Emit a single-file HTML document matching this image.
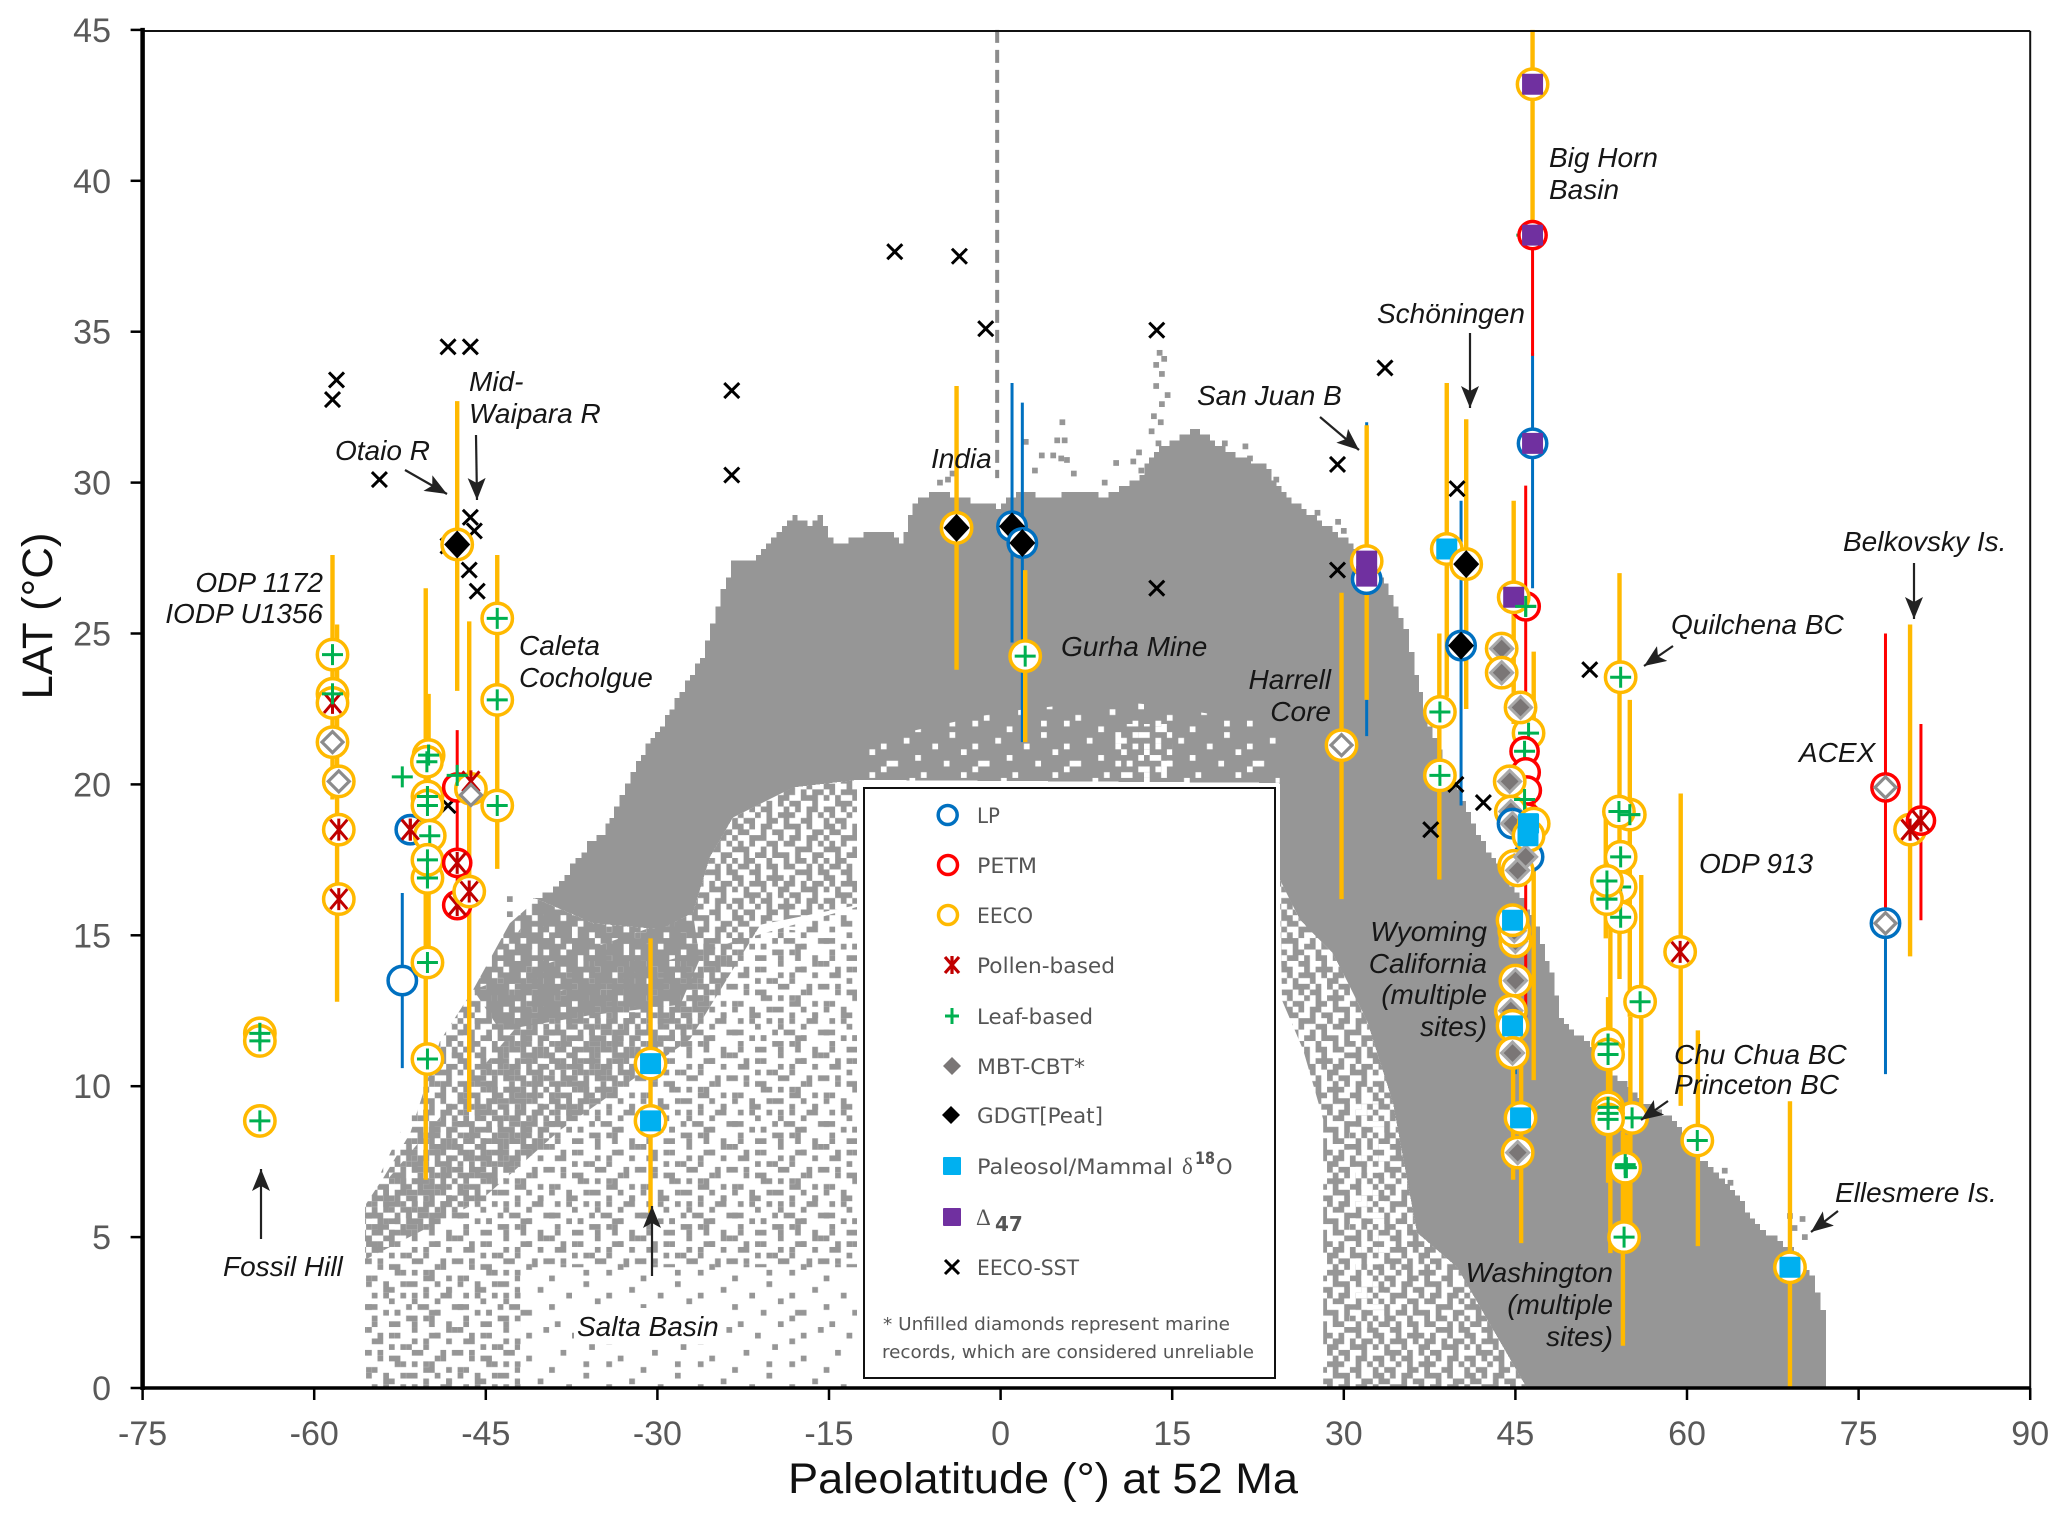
<!DOCTYPE html>
<html lang="en">
<head>
<meta charset="utf-8">
<title>Paleolatitude vs LAT</title>
<style>
html,body{margin:0;padding:0;background:#fff}
svg{display:block}
.note{font:italic 28px "Liberation Sans",Arial,sans-serif;fill:#161616}
.lg{font:21px "DejaVu Sans","Liberation Sans",sans-serif;fill:#555}
.lgs{font:18px "DejaVu Sans","Liberation Sans",sans-serif;fill:#555}
</style>
</head>
<body>
<svg id="chart" xmlns="http://www.w3.org/2000/svg" width="2067" height="1520" viewBox="0 0 2067 1520">
<defs>
<marker id="arrowhead" markerUnits="userSpaceOnUse" markerWidth="24" markerHeight="18" refX="22" refY="9" orient="auto"><path d="M0 0L22 9L0 18L5 9Z" fill="#222"/></marker>
</defs>
<rect width="2067" height="1520" fill="#fff"/>
<g id="cloud"></g>
<rect x="574" y="1308" width="150" height="36" fill="#fff"/>
<g id="bars"></g>
<g id="sst"></g>
<g id="sites"></g>
<g id="axes"></g>

<g>
<text class="note" x="1549" y="167">Big Horn</text>
<text class="note" x="1549" y="199">Basin</text>
<text class="note" x="1377" y="323">Schöningen</text>
<text class="note" x="1197" y="405">San Juan B</text>
<text class="note" x="469" y="391">Mid-</text>
<text class="note" x="469" y="423">Waipara R</text>
<text class="note" x="335" y="460">Otaio R</text>
<text class="note" x="931" y="468">India</text>
<text class="note" x="323" y="592" text-anchor="end">ODP 1172</text>
<text class="note" x="323" y="623" text-anchor="end">IODP U1356</text>
<text class="note" x="519" y="655">Caleta</text>
<text class="note" x="519" y="687">Cocholgue</text>
<text class="note" x="1061" y="656">Gurha Mine</text>
<text class="note" x="1331" y="689" text-anchor="end">Harrell</text>
<text class="note" x="1331" y="721" text-anchor="end">Core</text>
<text class="note" x="1843" y="551">Belkovsky Is.</text>
<text class="note" x="1671" y="634">Quilchena BC</text>
<text class="note" x="1799" y="762">ACEX</text>
<text class="note" x="1699" y="873">ODP 913</text>
<text class="note" x="1487" y="941" text-anchor="end">Wyoming</text>
<text class="note" x="1487" y="973" text-anchor="end">California</text>
<text class="note" x="1487" y="1004" text-anchor="end">(multiple</text>
<text class="note" x="1487" y="1036" text-anchor="end">sites)</text>
<text class="note" x="1674" y="1064">Chu Chua BC</text>
<text class="note" x="1674" y="1094">Princeton BC</text>
<text class="note" x="1835" y="1202">Ellesmere Is.</text>
<text class="note" x="1613" y="1282" text-anchor="end">Washington</text>
<text class="note" x="1613" y="1314" text-anchor="end">(multiple</text>
<text class="note" x="1613" y="1346" text-anchor="end">sites)</text>
<text class="note" x="223" y="1276">Fossil Hill</text>
<text class="note" x="577" y="1336">Salta Basin</text>
</g>

<g stroke="#222" stroke-width="2.2" fill="none">
<line x1="405" y1="470" x2="447" y2="494" marker-end="url(#arrowhead)"/>
<line x1="476" y1="435" x2="477" y2="500" marker-end="url(#arrowhead)"/>
<line x1="1320" y1="417" x2="1359" y2="450" marker-end="url(#arrowhead)"/>
<line x1="1470" y1="333" x2="1470" y2="408" marker-end="url(#arrowhead)"/>
<line x1="1673" y1="646" x2="1644" y2="666" marker-end="url(#arrowhead)"/>
<line x1="1914" y1="563" x2="1914" y2="619" marker-end="url(#arrowhead)"/>
<line x1="1668" y1="1101" x2="1641" y2="1120" marker-end="url(#arrowhead)"/>
<line x1="1838" y1="1211" x2="1811" y2="1232" marker-end="url(#arrowhead)"/>
<line x1="261" y1="1239" x2="261" y2="1169" marker-end="url(#arrowhead)"/>
<line x1="652" y1="1276" x2="652" y2="1206" marker-end="url(#arrowhead)"/>
</g>

<g>
<rect x="857" y="784" width="423" height="602" fill="#fff"/>
<rect x="864" y="788" width="411" height="590" fill="#fff" stroke="#111" stroke-width="2"/>
<g><circle cx="947.7" cy="815" r="9.5" fill="#fff" stroke="#0070C0" stroke-width="3.5"/><text class="lg" x="977" y="823" textLength="23" lengthAdjust="spacingAndGlyphs">LP</text></g>
<g><circle cx="948" cy="865" r="9.5" fill="#fff" stroke="#FF0000" stroke-width="3.5"/><text class="lg" x="977" y="873" textLength="60" lengthAdjust="spacingAndGlyphs">PETM</text></g>
<g><circle cx="948" cy="915" r="9.5" fill="#fff" stroke="#FFB900" stroke-width="3.5"/><text class="lg" x="977" y="923" textLength="56" lengthAdjust="spacingAndGlyphs">EECO</text></g>
<g><path d="M945 957L959 973M959 957L945 973M952 956V974" stroke="#C00000" stroke-width="3.2" fill="none"/><text class="lg" x="977" y="973" textLength="138" lengthAdjust="spacingAndGlyphs">Pollen-based</text></g>
<g><path d="M945 1016H959M952 1008V1024" stroke="#00B050" stroke-width="3" fill="none"/><text class="lg" x="977" y="1024" textLength="116" lengthAdjust="spacingAndGlyphs">Leaf-based</text></g>
<g><path d="M952 1057L961 1066L952 1075L943 1066Z" fill="#7a7676"/><text class="lg" x="977" y="1074" textLength="108" lengthAdjust="spacingAndGlyphs">MBT-CBT*</text></g>
<g><path d="M951 1106L960 1115L951 1124L942 1115Z" fill="#000"/><text class="lg" x="977" y="1123" textLength="126" lengthAdjust="spacingAndGlyphs">GDGT[Peat]</text></g>
<g><rect x="943" y="1157" width="18" height="18" rx="1" fill="#00B0F0"/><text class="lg" x="977" y="1174" textLength="196" lengthAdjust="spacingAndGlyphs">Paleosol/Mammal</text><text class="lg" x="1182" y="1174" style="font-family:'Liberation Serif',serif;font-size:23px">δ</text><text class="lg" x="1195" y="1164" textLength="20" lengthAdjust="spacingAndGlyphs" style="font-weight:700;font-size:17px">18</text><text class="lg" x="1216" y="1174">O</text></g>
<g><rect x="943" y="1208" width="18" height="18" rx="1" fill="#7030A0"/><text class="lg" x="976" y="1225" style="font-family:'Liberation Serif',serif;font-size:23px">Δ</text><text class="lg" x="995" y="1231" style="font-weight:700;font-size:20px">47</text></g>
<g><path d="M945 1260L959 1274M959 1260L945 1274" stroke="#000" stroke-width="3" fill="none"/><text class="lg" x="977" y="1275" textLength="102" lengthAdjust="spacingAndGlyphs">EECO-SST</text></g>
<text class="lgs" x="883" y="1330" textLength="347" lengthAdjust="spacingAndGlyphs">* Unfilled diamonds represent marine</text>
<text class="lgs" x="882" y="1358" textLength="372" lengthAdjust="spacingAndGlyphs">records, which are considered unreliable</text>
</g>
</svg>

<script>
/* axis tick labels */
const xTicks = [-75,-60,-45,-30,-15,0,15,30,45,60,75,90];
const yTicks = [0,5,10,15,20,25,30,35,40,45];

/* upper envelope of the model cloud: latitude (deg) and LAT (degC) */
const cloudTopLat  = [-40.96,-39.6,-37.64,-36.15,-34.9,-33.8,-31.87,-29.77,-28.5,-26.27,-25.4,-23.56,-21.8,-20.06,-18.2,-16.9,-16,-14.6,-12,-9.7,-8.9,-7.7,-5.3,-4,-0.4,1.8,3.45,7.2,9,11.7,13.85,17,18.75,21,22.8,25,27.2,30.4,33.5,35.2,36.2,37.3,39.5,41.1,42.9,44.5,46.7,48,48.8,51,53.5,56.1,58.7,60.4,63.3,66.4,68.9,70.7,72.15];
const cloudTopTemp = [16.2,16.4,17.3,18.1,18.4,19.2,20.8,22,22.8,24.2,25.4,27.4,27.4,28.2,29,28.5,28.9,27.9,28.3,28.3,27.9,29.4,29.75,29.5,29.2,29.75,29.5,29.7,29.5,30.15,31.15,31.8,31.3,30.8,30.6,29.5,28.85,28,26.7,25.2,23.6,22,20.1,18.7,17.5,16.7,15.3,13.7,12.2,11.5,10.4,9.45,8.85,7.75,6.8,5.2,4.65,3.7,2.1];
/* lower edge of the solid part of the cloud, right to left */
const solidLowLat  = [72.15,46,39.9,36.4,34.9,34.3,32,29.05,26.2,24.4,24.4,-12.55,-18.15,-23.4,-25.4,-26.9,-29.75,-35.6,-40.5];
const solidLowTemp = [0,0,4,5.15,8.2,9.45,12.2,14.4,15.5,16.85,20.05,20.15,19.9,18.9,17.6,15.75,15.2,15.4,16.2];
/* speckle zones */
const faintLat  = [-55.56,-55.56,-49.1,-40.96,-12,-12];
const faintTemp = [0,6.03,11.17,15.8,15,0];
const lightLat  = [-55.56,-42,-42,-12,-12,-40,-55.56];
const lightTemp = [0,0,4,4,16,13,6.03];
const denseZoneLat  = [-40.5,-35.6,-29.75,-26.9,-26.3,-28,-35.9,-43.75,-46.1,-42.9];
const denseZoneTemp = [16.2,15.4,15.2,15.75,14.2,12.7,12.35,11.85,13.2,15.4];
const mediumLeftLat  = [-46.1,-49,-51.6,-53.9,-55.55,-55.55,-45.5,-38.5,-27.15,-21,-12.55,-12.55,-18.15,-23.4,-25.4,-26.9];
const mediumLeftTemp = [13.2,11.5,8.45,7,6.05,4.25,6.2,8.55,11.55,15.35,16,20.15,19.9,18.9,17.6,15.75];
const mediumRightLat  = [24.4,26.2,29.05,32,34.3,34.9,36.4,39.9,46,28.2,28.2,26.45,24.6];
const mediumRightTemp = [16.85,15.5,14.4,12.2,9.45,8.2,5.15,4,0,0,8.9,11.2,12.85];
/* pale gaps inside the cloud */
const lobeGapLat  = [30.5,34,34,30.5];
const lobeGapTemp = [9.5,9.5,2,2];
const fleckLat  = [-12.3,0,10,24.4,24.4,-12.3];
const fleckTemp = [21.4,22.4,22.8,22,20.05,20.05];
const fleckCoreLat  = [10,15,15,10];
const fleckCoreTemp = [22,22,20.05,20.05];
/* stray cells outside the main envelope */
const strayLat  = [13.9,14.3,13.6,14.1,13.6,14.6,14.1,13.4,14,13.2,5.4,4.95,5.6,3.6,4.6,5.3,5.8,6.4,3,2.2,10.1,9.1,12.1,11.6,12.3,13.8,-5.3,-4.6,-4.2,-2,19.6,21.4,21.8,24.1,27.7,29.5,30,69,69.4,70.1,70.3,63.3,63.8,-42.9,-42.9];
const strayTemp = [34.3,34.1,33.9,33.6,33.2,32.9,32.6,32.2,32,31.7,32,31.4,31.4,30.9,30.9,30.8,30.75,30.3,30.4,31.35,30.65,30,31,30.7,30.4,31.3,30,30.1,30.3,29.1,31.3,31.2,30.8,30.1,29,28.7,28.4,5.7,5.3,5.6,5,7.2,6.8,16.2,15.7];

/* hand drawn speckle tiles */
const tileFaint = ["......#.........","..............#.","...#......#.....","........#.......","#...............",".....#.....##...","..........#.....",".#......#.......","...............#","....#.......#...","..........#.....",".......#........","..#.............","............#...","......#...#.....","#..............."];
const tileLight = ["#..#...##...#...","...##.....#...#.",".#....#.#....##.","....#.......#...","##.....#.##....#","...#.#......#...",".#.....##..#....","....##.....#..#.","#.......#.....#.","..#..#.....##...",".##.....#.....#.","....#.#...#.....","#.......##...#.#","..#.##.......#..",".....#..#..#....",".#........##..#."];
const tileMedium = ["##.#.##..###.#..",".##..#.##..#..##","#..###..#.##.##.",".#.#..##.##..#.#","###..#.#...###..","..#.##.###.#..##","#.##..#..#.##.#.",".##.#.##.##..#.#","#..##..#...###.#","##..#.###.#..#..",".#.###.#.##.#.##","#.#..#..##..###.","..###.#.#.##..#.","##.#.##..#.#.##.",".#..#.#.###..#.#","#.##..##.#..##.."];
const tileDense = ["##.#####.####.##","#####.####.#####",".###.#####.##.##","####.##.#######.","#.######.##.####","###.#####.###.##","##.####.#####.#.","#####.####.#####",".####.#.#####.##","##.#####.###.###","###.##.####.####","#.#####.####.#.#","####.####..#####","##.######.###.##","#.####.#####.###","####.#####.#.###"];

/* error bars */
const orangeBarLat  = [-58.4,-58,-50.25,-50,-47.5,-46.45,-44,-30.6,-3.85,2.15,29.8,32,39,38.35,40.7,46.5,44.85,46.6,45.5,44.8,54.1,55,56,52.9,53.3,53.1,54.4,54.6,54.9,55.05,60.95,59.45,69,79.5];
const orangeBarLow  = [19.5,12.8,6.9,14,23.1,9.15,17.2,5.8,23.8,21.4,16.2,22.8,22.9,16.85,22.5,38.3,22,10.2,4.8,6.9,13.55,12.3,9.3,14.9,4.47,6.8,1.4,5,5,5,4.7,9.35,0,14.3];
const orangeBarHigh = [27.6,25.3,26.5,23,32.7,25.4,27.6,14.9,33.2,27.1,26.35,31.9,33.3,25,32.1,45,29.4,24.4,11,14,27,22.8,17,19.3,15.5,12.95,8.5,8.4,8.4,12.3,11.85,19.7,9.5,25.3];
const redBarLat  = [-47.5,46.5,45.9,77.35,80.45];
const redBarLow  = [16,34.2,12,15.4,15.5];
const redBarHigh = [21.8,38.2,29.9,25,22];
const blueBarLat  = [-52.3,1,1.9,32,40.25,46.5,77.35,45];
const blueBarLow  = [10.6,24.7,21.4,21.6,19.3,26.5,10.4,10.4];
const blueBarHigh = [16.4,33.3,32.65,32,29.4,34.3,15.4,13];

/* EECO sea surface temperature crosses */
const sstLat  = [-58.4,-58.05,-54.3,-48.3,-46.35,-46.35,-46,-48.3,-46.45,-45.75,-48.3,-23.5,-23.5,-9.25,-3.6,-1.3,13.65,13.65,29.45,29.45,33.6,39.9,39.8,37.6,42.2,51.5];
const sstTemp = [32.75,33.4,30.1,34.5,34.5,28.85,28.4,27.9,27.1,26.4,19.3,33.05,30.25,37.65,37.5,35.1,35.05,26.5,30.6,27.1,33.8,29.8,20,18.5,19.4,23.8];

/* site records, split into regional groups: latitude, LAT, period ring (E EECO, P PETM, L LP, N none), proxy */
const southLat = [-64.75,-64.75,-64.75,-64.75, -58.4,-58.4,-58.4,-58.4,-58.4,-57.85,-57.85,-57.85, -52.3,-51.6,-52.3];
const southTemp = [11.75,11.5,11.75,8.85, 24.3,23,22.7,23,21.4,20.1,18.5,16.2, 13.5,18.5,20.25];
const southPeriod = ["E","E","N","E", "E","E","E","N","E","E","E","E", "L","L","N"];
const southProxy = ["leaf","leaf","leaf","leaf", "leaf","leaf","pollen","leaf","marine","marine","pollen","pollen", "none","pollen","leaf"];

const waiparaLat = [-50,-50.15,-50,-50.1,-50.1,-50.1,-49.9,-51.6,-50.1,-50.1,-50.1,-50.1,-50.1, -47.5,-47.5,-47.5,-47.5,-46.3,-46.3,-46.3,-47.5,-46.45, -44,-44,-44];
const waiparaTemp = [20.97,20.75,20.97,19.6,19.3,19.6,18.3,18.5,16.9,17.5,16.9,14.1,10.9, 27.95,19.9,17.4,16,19.85,20.1,19.65,20.3,16.45, 25.5,22.8,19.3];
const waiparaPeriod = ["E","E","N","E","E","N","E","N","E","E","N","E","E", "E","P","P","P","E","N","N","N","E", "E","E","E"];
const waiparaProxy = ["leaf","leaf","leaf","leaf","leaf","leaf","leaf","pollen","leaf","leaf","leaf","leaf","leaf", "gdgt","none","pollen","pollen","none","pollen","marine","leaf","pollen", "leaf","leaf","leaf"];

const centralLat = [-30.6,-30.6,-3.85,1,1.9,2.15,29.8,32,32,32];
const centralTemp = [10.75,8.85,28.5,28.55,28,24.25,21.3,26.8,27.4,26.9];
const centralPeriod = ["E","E","E","L","L","E","E","L","E","N"];
const centralProxy = ["paleosol","paleosol","gdgt","gdgt","gdgt","leaf","marine","none","d47","d47"];

const upperNorthLat = [39,38.4,38.4,40.25,40.7, 46.5,46,46.5,46.5,45.9,44.85,45.9, 43.8,43.8,46.15,45.45];
const upperNorthTemp = [27.8,22.4,20.3,24.6,27.3, 43.2,38.2,38.2,31.3,25.9,26.2,25.9, 24.5,23.7,21.7,22.55];
const upperNorthPeriod = ["E","E","E","L","E", "E","N","P","L","P","E","N", "E","E","E","E"];
const upperNorthProxy = ["paleosol","leaf","leaf","gdgt","gdgt", "d47","leaf","d47","d47","leaf","d47","leaf", "mbt","mbt","leaf","mbt"];

const wyomingLat = [45.8,45.9,46,46,44.5,44.6,45.8,44.75,46.15,46.6,46.15,44.9,45.2,45.9,46.15,46.1];
const wyomingTemp = [21.1,20.4,19.8,18.9,20.1,19.1,19.5,18.7,17.6,18.7,18.3,17.3,17.15,17.6,18.7,18.3];
const wyomingPeriod = ["P","P","P","P","E","E","N","L","L","E","E","E","E","N","N","N"];
const wyomingProxy = ["leaf","none","none","none","mbt","mbt","leaf","mbt","none","none","none","mbt","mbt","mbt","paleosol","paleosol"];

const californiaLat = [45,44.9,44.75,45,44.6,44.75,44.75,45.45,45.2];
const californiaTemp = [14.8,15.15,15.5,13.5,12.5,12,11.1,8.95,7.8];
const californiaPeriod = ["E","E","E","E","E","E","E","E","E"];
const californiaProxy = ["mbt","mbt","paleosol","mbt","mbt","paleosol","mbt","paleosol","mbt"];

const bcLat = [54.2,55,54.05,55,54.2,54.2,54.2,53,53,53,55.9,53.1,53.1,53.1,55.2,53.1,53.1,53.1,53.1,53.1,54.6,54.7,54.6,54.5,60.9];
const bcTemp = [23.55,19,19.1,19,17.6,16.6,15.6,16.2,16.8,16.2,12.8,11.4,11.05,11.4,8.95,9.3,9.1,8.9,9.3,9.1,7.3,7.3,7.4,5,8.2];
const bcPeriod = ["E","E","E","N","E","E","E","E","E","N","E","E","E","N","E","E","E","E","N","N","E","N","N","E","E"];
const bcProxy = ["leaf","leaf","leaf","leaf","leaf","leaf","leaf","leaf","leaf","leaf","leaf","leaf","leaf","leaf","leaf","leaf","leaf","leaf","leaf","leaf","leaf","leaf","leaf","leaf","leaf"];

const arcticLat = [59.4,69,77.35,77.35,79.5,80.45,79.5];
const arcticTemp = [14.45,4,19.9,15.4,18.5,18.8,18.5];
const arcticPeriod = ["E","E","P","L","E","P","N"];
const arcticProxy = ["pollen","paleosol","marine","marine","pollen","pollen","pollen"];

/* axis functions */
const X0 = 142.6, XPER = 11.44, Y0 = 1388, YPER = 30.18;
const xAxis = function (lat) { return X0 + (lat + 75) * XPER; };
const yAxis = function (temp) { return Y0 - temp * YPER; };
const SVGNS = "http://www.w3.org/2000/svg";
const CELL = 5.72, GRAY = "#969696";
const ringColors = { L: "#0070C0", P: "#FF0000", E: "#FFB900" };
const ringRadius = { L: 14.2, P: 13.6, E: 15.2 };

function mk(tag, parent) {
  const el = document.createElementNS(SVGNS, tag);
  parent.appendChild(el);
  return el;
}
function setAll(el, attrs) {
  Object.keys(attrs).forEach(function (k) { el.setAttribute(k, attrs[k]); });
}

const defs = document.querySelector("#chart defs");
function addTile(id, rows, color) {
  const p = mk("pattern", defs);
  setAll(p, { id: id, patternUnits: "userSpaceOnUse", width: CELL * 16, height: CELL * 16 });
  let d = "";
  rows.forEach(function (row, r) {
    for (let c = 0; c < row.length; c++) {
      if (row[c] === "#") d += "M" + (c * CELL) + " " + (r * CELL) + "h" + CELL + "v" + CELL + "h-" + CELL + "z";
    }
  });
  const path = mk("path", p);
  setAll(path, { d: d, fill: color });
}
addTile("tile-faint", tileFaint, GRAY);
addTile("tile-light", tileLight, GRAY);
addTile("tile-medium", tileMedium, GRAY);
addTile("tile-dense", tileDense, GRAY);
addTile("tile-faint-white", tileFaint, "#fff");
addTile("tile-light-white", tileLight, "#fff");

function polyPoints(lats, temps) {
  return lats.map(function (v, i) { return xAxis(v).toFixed(1) + "," + yAxis(temps[i]).toFixed(1); }).join(" ");
}
/* draws an envelope on the half-degree raster of the model grid */
function stairPoints(lats, temps) {
  const out = [];
  for (let i = 0; i + 1 < lats.length; i++) {
    const dLat = lats[i + 1] - lats[i];
    const steps = Math.max(1, Math.ceil(dLat / 0.5));
    for (let s = 0; s < steps; s++) {
      const f = s / steps;
      const temp = temps[i] + (temps[i + 1] - temps[i]) * f;
      const yPix = Math.round(yAxis(temp) / CELL) * CELL;
      const a = xAxis(lats[i] + dLat * f), b = xAxis(lats[i] + dLat * (s + 1) / steps);
      out.push(a.toFixed(1) + "," + yPix.toFixed(1));
      out.push(b.toFixed(1) + "," + yPix.toFixed(1));
    }
  }
  return out.join(" ");
}
const cloud = document.getElementById("cloud");

const cloudFaint = mk("polygon", cloud);


setAll(cloudFaint, { points: polyPoints(faintLat, faintTemp), fill: "url(#tile-faint)" });

const cloudLight = mk("polygon", cloud);


setAll(cloudLight, { points: polyPoints(lightLat, lightTemp), fill: "url(#tile-light)" });

const cloudMediumLeft = mk("polygon", cloud);


setAll(cloudMediumLeft, { points: polyPoints(mediumLeftLat, mediumLeftTemp), fill: "url(#tile-medium)" });

const cloudDense = mk("polygon", cloud);


setAll(cloudDense, { points: polyPoints(denseZoneLat, denseZoneTemp), fill: "url(#tile-dense)" });

const cloudMediumRight = mk("polygon", cloud);


setAll(cloudMediumRight, { points: polyPoints(mediumRightLat, mediumRightTemp), fill: "url(#tile-medium)" });

const lobeGap = mk("polygon", cloud);


setAll(lobeGap, { points: polyPoints(lobeGapLat, lobeGapTemp), fill: "url(#tile-light-white)" });

const cloudSolid = mk("polygon", cloud);


setAll(cloudSolid, { points: stairPoints(cloudTopLat, cloudTopTemp) + " " + polyPoints(solidLowLat, solidLowTemp), fill: GRAY, "shape-rendering": "crispEdges" });

const fleck = mk("polygon", cloud);


setAll(fleck, { points: polyPoints(fleckLat, fleckTemp), fill: "url(#tile-faint-white)" });

const fleckCore = mk("polygon", cloud);


setAll(fleckCore, { points: polyPoints(fleckCoreLat, fleckCoreTemp), fill: "url(#tile-light-white)" });

strayLat.forEach(function (lat, i) {
  const cell = mk("rect", cloud);
  
  
  setAll(cell, { x: xAxis(lat) - CELL / 2, y: yAxis(strayTemp[i]) - CELL / 2, width: CELL, height: CELL, fill: GRAY });
});

/* equator dashed line */
const equator = mk("line", cloud);


setAll(equator, { x1: xAxis(-0.3), x2: xAxis(-0.3), y1: yAxis(45), y2: yAxis(30.15), stroke: "#8c8c8c", "stroke-width": 4, "stroke-dasharray": "13 7" });

/* error bars */
const barsG = document.getElementById("bars");
function drawBars(lats, lows, highs, color, width) {
  lats.forEach(function (lat, i) {
    const b = mk("line", barsG);
    
    
    setAll(b, { x1: xAxis(lat), x2: xAxis(lat), y1: yAxis(lows[i]), y2: yAxis(highs[i]), stroke: color, "stroke-width": width });
  });
}
drawBars(blueBarLat, blueBarLow, blueBarHigh, "#0070C0", 3);
drawBars(redBarLat, redBarLow, redBarHigh, "#FF0000", 3);
drawBars(orangeBarLat, orangeBarLow, orangeBarHigh, "#FFB900", 4.4);

/* SST crosses */
const sstG = document.getElementById("sst");
sstLat.forEach(function (lat, i) {
  const m = mk("path", sstG);
  
  
  const x = xAxis(lat), y = yAxis(sstTemp[i]);
  setAll(m, { d: "M" + (x - 7.5) + " " + (y - 7.5) + "l15 15m0 -15l-15 15", stroke: "#000", "stroke-width": 3, fill: "none" });
});

/* site markers */
const sitesG = document.getElementById("sites");
function drawProxy(g, kind, x, y) {
  let el;
  if (kind === "leaf") {
    el = mk("path", g);
    setAll(el, { d: "M" + (x - 10.5) + " " + y + "h21M" + x + " " + (y - 10.5) + "v21", stroke: "#00B050", "stroke-width": 3, fill: "none" });
  } else if (kind === "pollen") {
    el = mk("path", g);
    setAll(el, { d: "M" + (x - 8.5) + " " + (y - 10) + "l17 20m0 -20l-17 20M" + x + " " + (y - 11) + "v22", stroke: "#C00000", "stroke-width": 3, fill: "none" });
  } else if (kind === "mbt") {
    el = mk("path", g);
    setAll(el, { d: "M" + x + " " + (y - 11) + "l11 11l-11 11l-11 -11z", fill: "#7a7676", stroke: "#a9a9a9", "stroke-width": 3 });
  } else if (kind === "marine") {
    el = mk("path", g);
    setAll(el, { d: "M" + x + " " + (y - 10.5) + "l10.5 10.5l-10.5 10.5l-10.5 -10.5z", fill: "#fff", stroke: "#8c8c8c", "stroke-width": 3.2 });
  } else if (kind === "gdgt") {
    el = mk("path", g);
    setAll(el, { d: "M" + x + " " + (y - 14) + "l13 14l-13 14l-13 -14z", fill: "#000" });
  } else if (kind === "paleosol") {
    el = mk("rect", g);
    setAll(el, { x: x - 10.5, y: y - 10.5, width: 21, height: 21, rx: 2, fill: "#00B0F0" });
  } else if (kind === "d47") {
    el = mk("rect", g);
    setAll(el, { x: x - 10.5, y: y - 10.5, width: 21, height: 21, rx: 1, fill: "#7030A0" });
  }
}
function drawSites(lats, temps, periods, proxies) {
  lats.forEach(function (lat, i) {
    const g = mk("g", sitesG);
    
    
    const x = xAxis(lat), y = yAxis(temps[i]);
    if (periods[i] !== "N") {
      const c = mk("circle", g);
      setAll(c, { cx: x, cy: y, r: ringRadius[periods[i]], fill: "#fff", stroke: ringColors[periods[i]], "stroke-width": 3.5 });
    }
    drawProxy(g, proxies[i], x, y);
  });
}
drawSites(southLat, southTemp, southPeriod, southProxy);
drawSites(waiparaLat, waiparaTemp, waiparaPeriod, waiparaProxy);
drawSites(centralLat, centralTemp, centralPeriod, centralProxy);
drawSites(upperNorthLat, upperNorthTemp, upperNorthPeriod, upperNorthProxy);
drawSites(wyomingLat, wyomingTemp, wyomingPeriod, wyomingProxy);
drawSites(californiaLat, californiaTemp, californiaPeriod, californiaProxy);
drawSites(bcLat, bcTemp, bcPeriod, bcProxy);
drawSites(arcticLat, arcticTemp, arcticPeriod, arcticProxy);

/* axes */
const axesG = document.getElementById("axes");
const frameTop = mk("line", axesG);


setAll(frameTop, { x1: xAxis(-75), x2: xAxis(90), y1: 31, y2: 31, stroke: "#111", "stroke-width": 2 });
const frameRight = mk("line", axesG);


setAll(frameRight, { x1: xAxis(90), x2: xAxis(90), y1: 31, y2: Y0, stroke: "#111", "stroke-width": 2 });
const axisY = mk("line", axesG);


setAll(axisY, { x1: xAxis(-75), x2: xAxis(-75), y1: yAxis(45) - 2, y2: Y0 + 2, stroke: "#000", "stroke-width": 4.5 });
const axisX = mk("line", axesG);


setAll(axisX, { x1: xAxis(-75), x2: xAxis(90), y1: Y0, y2: Y0, stroke: "#000", "stroke-width": 3.5 });

xTicks.forEach(function (t) {
  const tick = mk("line", axesG);
  
  
  setAll(tick, { x1: xAxis(t), x2: xAxis(t), y1: Y0, y2: Y0 + 12, stroke: "#000", "stroke-width": 2.5 });
  const label = mk("text", axesG);
  
  
  setAll(label, { x: xAxis(t), y: Y0 + 57, "text-anchor": "middle", fill: "#595959", "font-family": "Liberation Sans, Arial, sans-serif", "font-size": 34 });
  label.textContent = String(t);
});
yTicks.forEach(function (t) {
  const tick = mk("line", axesG);
  
  
  setAll(tick, { x1: xAxis(-75) - 12, x2: xAxis(-75), y1: yAxis(t), y2: yAxis(t), stroke: "#000", "stroke-width": 2.5 });
  const label = mk("text", axesG);
  
  
  setAll(label, { x: 111, y: yAxis(t) + 12, "text-anchor": "end", fill: "#595959", "font-family": "Liberation Sans, Arial, sans-serif", "font-size": 34 });
  label.textContent = String(t);
});

const xTitle = mk("text", axesG);


setAll(xTitle, { x: 1043, y: 1493, "text-anchor": "middle", fill: "#111", "font-family": "Liberation Sans, Arial, sans-serif", "font-size": 43, textLength: 510, lengthAdjust: "spacingAndGlyphs" });
xTitle.textContent = "Paleolatitude (°) at 52 Ma";

const yTitle = mk("text", axesG);


setAll(yTitle, { transform: "translate(52,616) rotate(-90)", "text-anchor": "middle", fill: "#111", "font-family": "Liberation Sans, Arial, sans-serif", "font-size": 43, textLength: 167, lengthAdjust: "spacingAndGlyphs" });
yTitle.textContent = "LAT (°C)";
</script>
</body>
</html>
